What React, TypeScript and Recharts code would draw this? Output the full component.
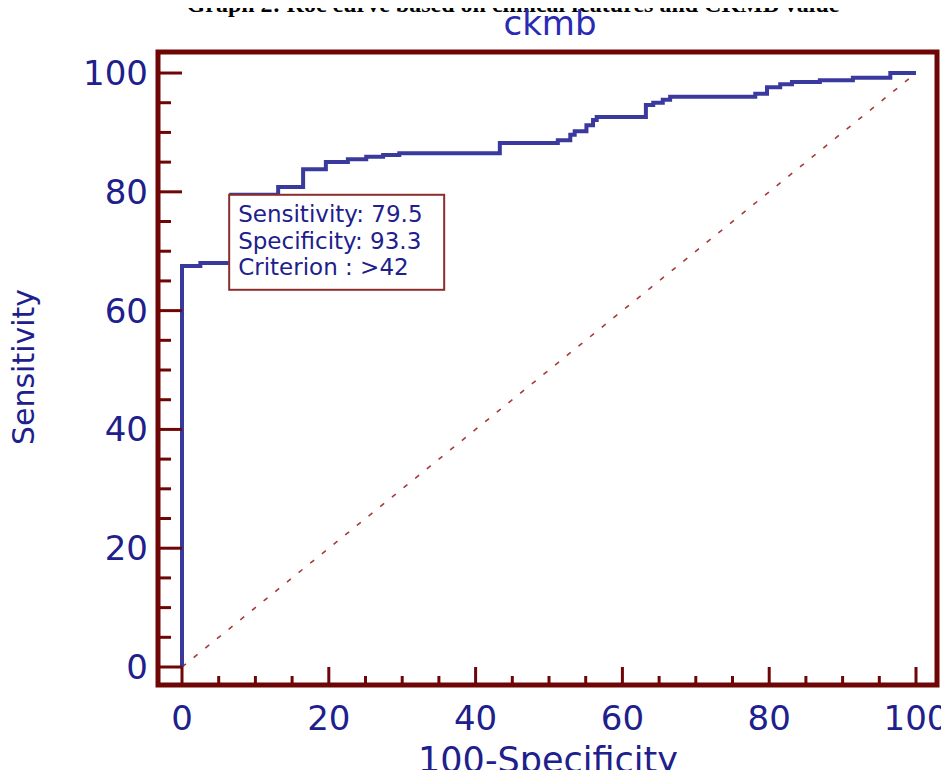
import React from 'react';
import { ComposedChart, Line, XAxis, YAxis, ReferenceArea, ReferenceDot } from 'recharts';

// ROC curve corner points (100-Specificity, Sensitivity), stepAfter
const rocX = [0, 0, 2.5, 6.7, 13.1, 16.5, 19.6, 22.6, 25.1, 27.4, 29.6, 43.3, 51.2, 52.9, 53.5, 55.1, 56.0, 56.5, 63.2, 64.2, 65.5, 66.5, 78.1, 79.7, 81.5, 83.1, 86.9, 91.4, 96.5, 100];
const rocY = [0, 67.5, 68.0, 79.5, 80.8, 83.8, 85.0, 85.5, 85.9, 86.2, 86.5, 88.2, 88.7, 89.6, 90.2, 91.2, 92.1, 92.6, 94.6, 95.0, 95.5, 96.0, 96.5, 97.6, 98.1, 98.5, 98.8, 99.2, 100, 100];

// reference diagonal
const diagX = [0, 100];
const diagY = [0, 100];

// axis ticks
const axisTicks = [0, 5, 10, 15, 20, 25, 30, 35, 40, 45, 50, 55, 60, 65, 70, 75, 80, 85, 90, 95, 100];
const majorTicks = [0, 20, 40, 60, 80, 100];

// criterion annotation
const critSensitivity = 79.5;
const critSpecificity = 93.3;
const critCriterion = '>42';

const seriesName = 'ckmb';
const pageTitle = 'Graph 2: Roc curve based on clinical features and CKMB value';
const xTitle = '100-Specificity';
const yTitle = 'Sensitivity';

const X_MIN = -3.27;
const X_MAX = 102.86;
const Y_MIN = -3.03;
const Y_MAX = 103.54;

const FRAME = '#6e0606';
const CURVE = '#3a3a9e';
const TEXT = '#20208c';
const DIAG = '#a83a3a';
const FONT = '"DejaVu Sans", Verdana, sans-serif';

const rocData = rocX.map((x, i) => ({ x, y: rocY[i] }));
const diagData = diagX.map((x, i) => ({ x, y: diagY[i] }));

const XTick = (props: any) => {
  const { x, y, payload } = props;
  const v = payload.value;
  const major = majorTicks.includes(v);
  const xc = payload.coordinate ?? x;
  return (
    <g>
      <line x1={xc} x2={xc} y1={y - 1} y2={y - (major ? 18 : 9)} stroke={FRAME} strokeWidth={3} />
      {major && (
        <text x={xc} y={y + 45} textAnchor="middle" fill={TEXT} fontSize={34} fontFamily={FONT}>
          {v}
        </text>
      )}
    </g>
  );
};

const YTick = (props: any) => {
  const { x, y, payload } = props;
  const v = payload.value;
  const major = majorTicks.includes(v);
  const yc = payload.coordinate ?? y;
  return (
    <g>
      <line x1={x + 1} x2={x + (major ? 24 : 13)} y1={yc} y2={yc} stroke={FRAME} strokeWidth={3} />
      {major && (
        <text x={x - 10} y={yc + 12} textAnchor="end" fill={TEXT} fontSize={34} fontFamily={FONT}>
          {v}
        </text>
      )}
    </g>
  );
};

const CritBox = (props: any) => {
  const { cx, cy } = props;
  if (cx == null || cy == null) return null;
  const tx = cx + 7;
  return (
    <g>
      <rect x={cx - 2} y={cy} width={215} height={95} fill="#ffffff" stroke="#8c2d2d" strokeWidth={2} />
      <text x={tx} y={cy + 27} fill={TEXT} fontSize={23} fontFamily={FONT}>{`Sensitivity: ${critSensitivity}`}</text>
      <text x={tx} y={cy + 54} fill={TEXT} fontSize={23} fontFamily={FONT}>{`Specificity: ${critSpecificity}`}</text>
      <text x={tx} y={cy + 80} fill={TEXT} fontSize={23} fontFamily={FONT}>{`Criterion : ${critCriterion}`}</text>
    </g>
  );
};

export default function App() {
  return (
    <div style={{ position: 'relative', width: 949, height: 778, margin: -8, overflow: 'hidden', background: '#fff' }}>
      <ComposedChart width={949} height={778} margin={{ top: 52, right: 12, bottom: 0, left: 58 }}>
        <XAxis
          type="number"
          dataKey="x"
          domain={[X_MIN, X_MAX]}
          allowDataOverflow
          ticks={axisTicks}
          interval={0}
          tickSize={0}
          tickMargin={0}
          axisLine={false}
          tickLine={false}
          height={93}
          tick={(p: any) => <XTick {...p} />}
        />
        <YAxis
          type="number"
          dataKey="y"
          domain={[Y_MIN, Y_MAX]}
          allowDataOverflow
          ticks={axisTicks}
          interval={0}
          tickSize={0}
          tickMargin={0}
          axisLine={false}
          tickLine={false}
          width={100}
          tick={(p: any) => <YTick {...p} />}
        />
        <ReferenceDot
          x={100 - critSpecificity}
          y={critSensitivity}
          r={0}
          ifOverflow="visible"
          shape={(p: any) => <CritBox {...p} />}
        />
        <Line
          data={diagData}
          dataKey="y"
          type="linear"
          stroke={DIAG}
          strokeWidth={1.6}
          strokeDasharray="5 10"
          dot={false}
          activeDot={false}
          isAnimationActive={false}
        />
        <Line
          data={rocData}
          dataKey="y"
          type="stepAfter"
          stroke={CURVE}
          strokeWidth={4}
          dot={false}
          activeDot={false}
          isAnimationActive={false}
        />
        <ReferenceArea
          x1={X_MIN}
          x2={X_MAX}
          y1={Y_MIN}
          y2={Y_MAX}
          fill="none"
          fillOpacity={0}
          stroke={FRAME}
          strokeWidth={5}
          ifOverflow="visible"
        />
      </ComposedChart>
      <svg
        width={949}
        height={778}
        style={{ position: 'absolute', left: 0, top: 0, pointerEvents: 'none' }}
      >
        <text x={513} y={12} textAnchor="middle" fontSize={24} fontWeight="bold" fontFamily='"Liberation Serif", "Times New Roman", serif' fill="#000">
          {pageTitle}
        </text>
        <text x={550} y={35} textAnchor="middle" fontSize={34} fontFamily={FONT} fill="#2a2ab4">
          {seriesName}
        </text>
        <text x={548} y={772} textAnchor="middle" fontSize={35} fontFamily={FONT} fill={TEXT}>
          {xTitle}
        </text>
        <text transform="translate(34,367) rotate(-90)" textAnchor="middle" fontSize={30} fontFamily={FONT} fill={TEXT}>
          {yTitle}
        </text>
      </svg>
    </div>
  );
}
